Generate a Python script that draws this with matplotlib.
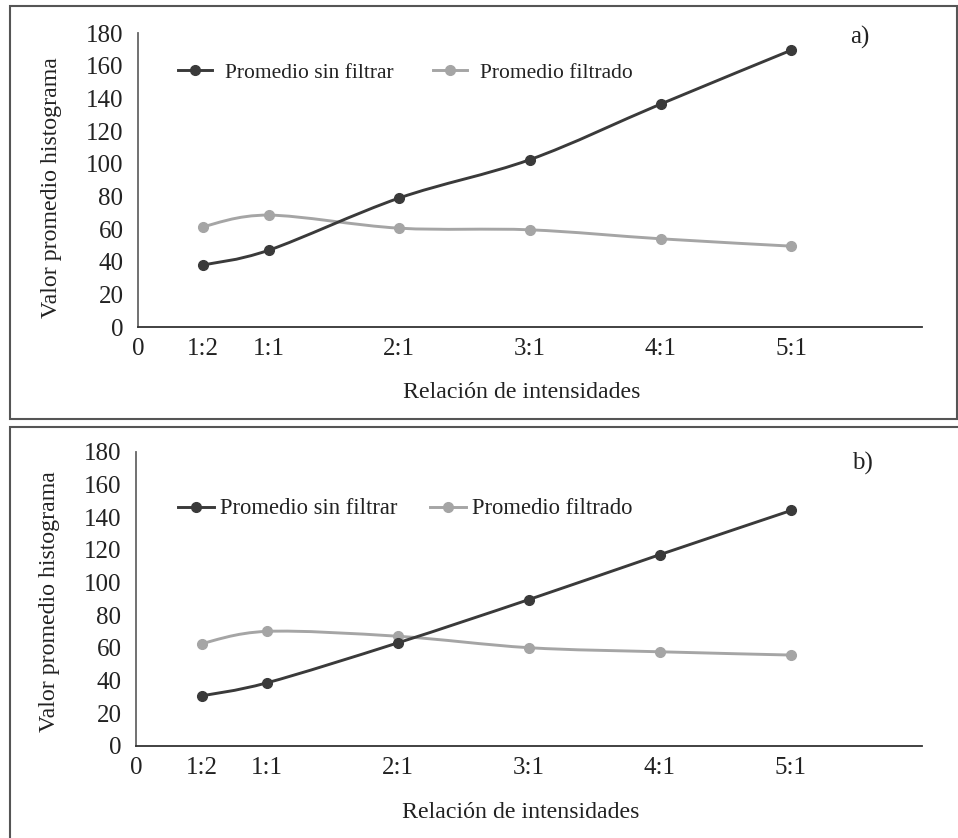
import matplotlib
matplotlib.use("Agg")
import matplotlib.pyplot as plt
from matplotlib.path import Path
from matplotlib.patches import PathPatch, Rectangle
from matplotlib.lines import Line2D
import numpy as np

plt.rcParams['font.family'] = ['Liberation Serif', 'DejaVu Serif']

# ---- data ----
x_pos = [0.5, 1, 2, 3, 4, 5]
tick_pos = [0, 0.5, 1, 2, 3, 4, 5]
tick_labels = ["0", "1:2", "1:1", "2:1", "3:1", "4:1", "5:1"]
yticks = [0, 20, 40, 60, 80, 100, 120, 140, 160, 180]

a_sin_filtrar = [38, 47, 79, 102.5, 136.5, 169.5]
a_filtrado = [61.5, 68.5, 60.5, 59.5, 54, 49.5]
b_sin_filtrar = [30.5, 38.5, 63, 89.5, 117, 144]
b_filtrado = [62.5, 70, 67, 60, 57.5, 55.5]

series_names = ["Promedio sin filtrar", "Promedio filtrado"]
panel_tags = ["a)", "b)"]
xlabel = "Relación de intensidades"
ylabel = "Valor promedio histograma"

DARK = "#3a3a3a"
GRAY = "#a5a5a5"

W, H = 958, 838
fig = plt.figure(figsize=(W / 100, H / 100), dpi=100)


def fx(px):
    return px / W


def fy(py):
    return 1 - py / H


def smooth_path(xs, ys):
    pts = np.column_stack([xs, ys]).astype(float)
    n = len(pts)
    verts = [pts[0]]
    codes = [Path.MOVETO]
    for i in range(n - 1):
        p0 = pts[i - 1] if i > 0 else pts[i]
        p1 = pts[i]
        p2 = pts[i + 1]
        p3 = pts[i + 2] if i + 2 < n else pts[i + 1]
        c1 = p1 + (p2 - p0) / 6.0
        c2 = p2 - (p3 - p1) / 6.0
        verts += [c1, c2, p2]
        codes += [Path.CURVE4] * 3
    return Path(verts, codes)


def draw_panel(ax, s1, s2, tag, tag_xy, leg_xy, leg_fs, leg_pad, leg_colsp,
               xl_y, yl_y):
    for vals, col in ((s2, GRAY), (s1, DARK)):
        patch = PathPatch(smooth_path(x_pos, vals), facecolor="none",
                          edgecolor=col, lw=2.1, transform=ax.transData,
                          capstyle="round", joinstyle="round")
        ax.add_patch(patch)
        ax.plot(x_pos, vals, linestyle="none", marker="o", ms=7,
                color=col, zorder=3)
    ax.set_xlim(0, 6)
    ax.set_ylim(0, 180)
    ax.set_xticks(tick_pos)
    ax.set_xticklabels(tick_labels)
    ax.set_yticks(yticks)
    ax.tick_params(axis="both", length=0, labelsize=18, colors="#222222")
    ax.tick_params(axis="y", pad=10.5)
    ax.tick_params(axis="x", pad=8)
    for s in ("top", "right"):
        ax.spines[s].set_visible(False)
    ax.spines["left"].set_color("#666666")
    ax.spines["left"].set_linewidth(1.3)
    ax.spines["bottom"].set_color("#333333")
    ax.spines["bottom"].set_linewidth(1.3)
    ax.set_xlabel(xlabel, fontsize=17.2, color="#222222")
    ax.set_ylabel(ylabel, fontsize=17.2, color="#222222")
    ax.yaxis.set_label_coords(-0.0969, yl_y)
    ax.xaxis.set_label_coords(0.49, xl_y)
    handles = [
        Line2D([], [], color=DARK, lw=2.1, marker="o", ms=7),
        Line2D([], [], color=GRAY, lw=2.1, marker="o", ms=7),
    ]
    fig.legend(handles, series_names, loc="center left",
               bbox_to_anchor=(fx(leg_xy[0]), fy(leg_xy[1])),
               ncol=2, frameon=False, fontsize=leg_fs, borderpad=0,
               borderaxespad=0, handlelength=1.6, handletextpad=leg_pad,
               columnspacing=leg_colsp, labelcolor="#222222")
    fig.text(fx(tag_xy[0]), fy(tag_xy[1]), tag, fontsize=18,
             ha="left", va="center", color="#222222")


ax1 = fig.add_axes([fx(138), fy(327), fx(922) - fx(138), fy(33) - fy(327)])
ax2 = fig.add_axes([fx(136), fy(745.7), fx(922) - fx(136), fy(451.7) - fy(745.7)])

draw_panel(ax1, a_sin_filtrar, a_filtrado, panel_tags[0], (850, 37),
           (178, 73), 15.5, 0.6, 1.8, -0.187, 0.474)
draw_panel(ax2, b_sin_filtrar, b_filtrado, panel_tags[1], (852, 463),
           (178, 509), 16.3, 0.25, 1.45, -0.19, 0.489)

# panel frames
fig.add_artist(Rectangle((fx(10), fy(419)), fx(957) - fx(10), fy(6) - fy(419),
                         fill=False, edgecolor="#555555", lw=1.5,
                         transform=fig.transFigure))
fig.add_artist(Rectangle((fx(10), fy(860)), fx(980) - fx(10), fy(427) - fy(860),
                         fill=False, edgecolor="#555555", lw=1.5,
                         transform=fig.transFigure, clip_on=False))

fig.savefig("out.png", dpi=100)
